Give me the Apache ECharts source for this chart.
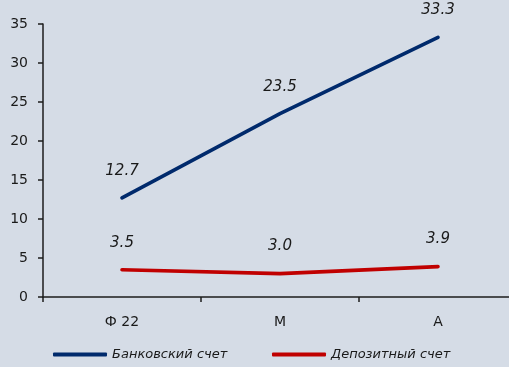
<!DOCTYPE html>
<html>
<head>
<meta charset="utf-8">
<script src="https://cdn.jsdelivr.net/npm/echarts@6/dist/echarts.min.js"></script>
<style>
  html, body { margin: 0; padding: 0; background: #d5dce6; overflow: hidden; }
  #frame { width: 509px; height: 367px; overflow: hidden; }
  /* the plot area runs past the right edge of the visible frame */
  #chart { width: 530px; height: 367px; }
</style>
</head>
<body>
<div id="frame"><div id="chart"></div></div>
<script>
// Months on the horizontal axis
const categories = ['Ф 22', 'М', 'А'];
// Series values
const bankAccount = [12.7, 23.5, 33.3];
const depositAccount = [3.5, 3.0, 3.9];
const seriesNames = ['Банковский счет', 'Депозитный счет'];

const FONT = 'DejaVu Sans';
const NAVY = '#002a6c';
const RED = '#c00000';
const AXIS = '#1c1c1c';

function lineSeries(name, data, color) {
  return {
    name: name,
    type: 'line',
    data: data,
    symbol: 'circle',
    symbolSize: 1,
    lineStyle: { color: color, width: 3.6, cap: 'round' },
    itemStyle: { color: color },
    label: {
      show: true,
      position: 'top',
      distance: 19,
      fontFamily: FONT,
      fontStyle: 'italic',
      fontSize: 15,
      color: '#1a1a1a',
      formatter: p => p.value.toFixed(1)
    },
    emphasis: { disabled: true },
    animation: false
  };
}

function legendAt(left, name, color) {
  return {
    left: left,
    top: 348,
    padding: 0,
    data: [name],
    icon: 'roundRect',
    itemWidth: 54,
    itemHeight: 4,
    itemGap: 0,
    selectedMode: false,
    itemStyle: { color: color },
    textStyle: {
      fontFamily: FONT,
      fontStyle: 'italic',
      fontSize: 13,
      color: '#1a1a1a',
      padding: [3, 0, 0, 0]
    }
  };
}

const chart = echarts.init(document.getElementById('chart'));
chart.setOption({
  backgroundColor: '#d5dce6',
  animation: false,
  grid: { left: 43, right: 13, top: 24, bottom: 70, containLabel: false },
  legend: [
    legendAt(53, seriesNames[0], NAVY),
    legendAt(272, seriesNames[1], RED)
  ],
  xAxis: {
    type: 'category',
    data: categories,
    boundaryGap: true,
    axisLine: { lineStyle: { color: AXIS, width: 1.5 } },
    axisTick: { show: true, length: 5, lineStyle: { color: AXIS, width: 1.5 } },
    axisLabel: { margin: 18, fontFamily: FONT, fontSize: 14, color: '#1a1a1a' },
    splitLine: { show: false }
  },
  yAxis: {
    type: 'value',
    min: 0,
    max: 35,
    interval: 5,
    axisLine: { show: true, lineStyle: { color: AXIS, width: 1.5 } },
    axisTick: { show: true, length: 5, lineStyle: { color: AXIS, width: 1.5 } },
    axisLabel: { margin: 15, fontFamily: FONT, fontSize: 14, color: '#1a1a1a' },
    splitLine: { show: false }
  },
  series: [
    lineSeries(seriesNames[0], bankAccount, NAVY),
    lineSeries(seriesNames[1], depositAccount, RED)
  ]
});
</script>
</body>
</html>
